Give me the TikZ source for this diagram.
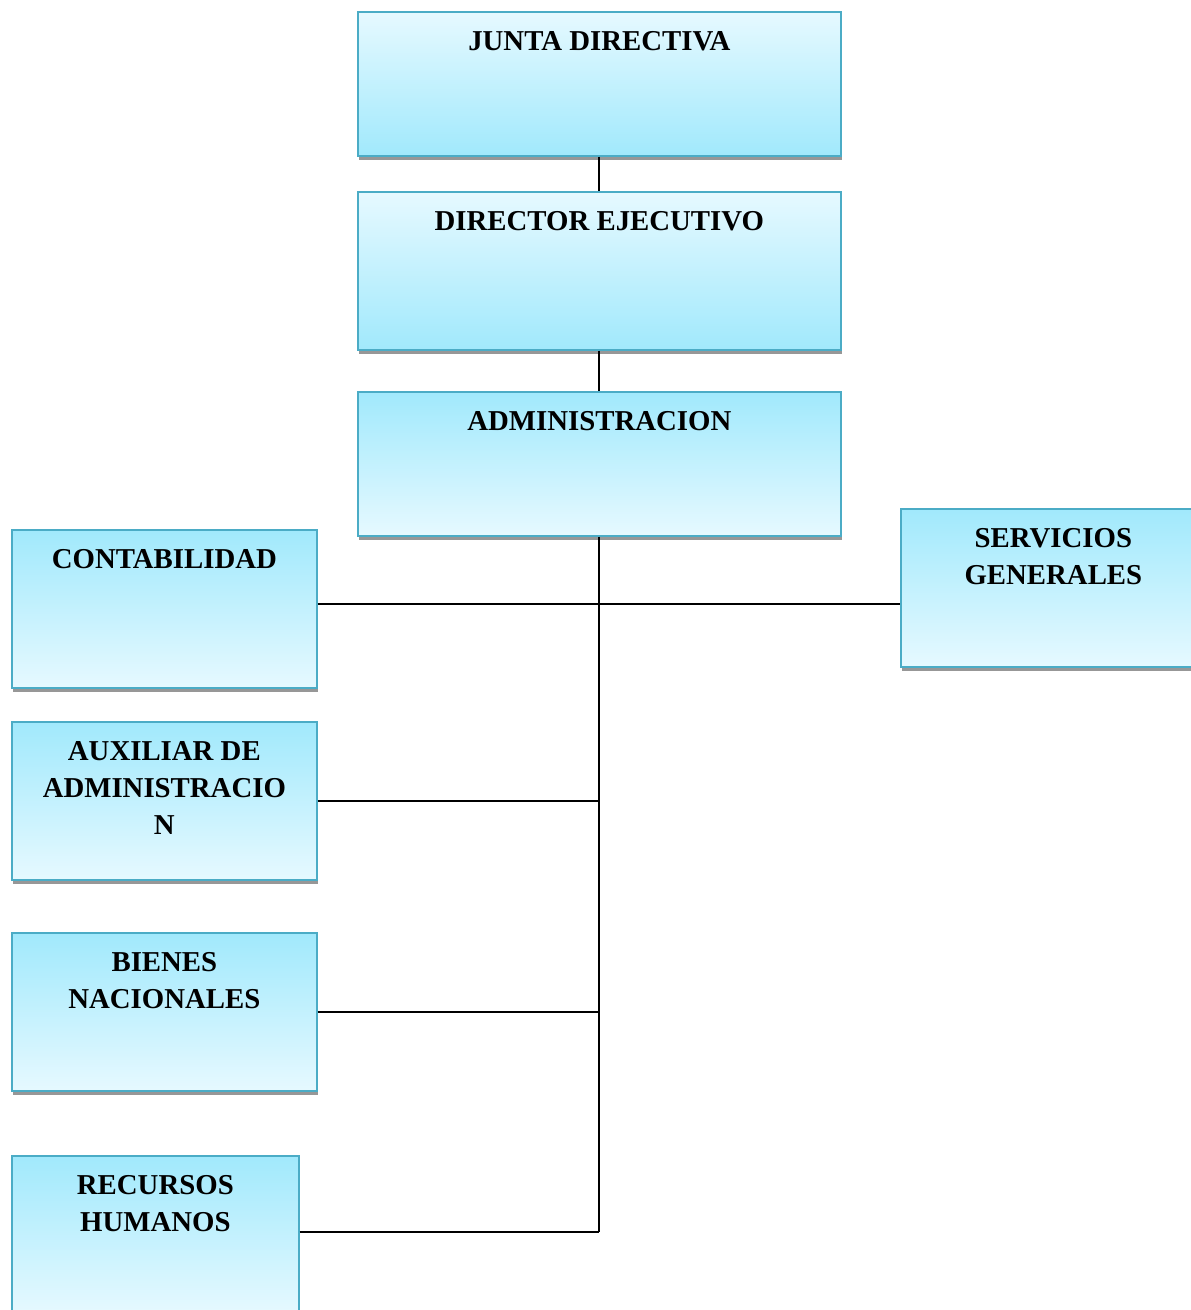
\documentclass[tikz,border=0pt]{standalone}
\usepackage{fontspec}
\setmainfont{Liberation Serif}
\usetikzlibrary{positioning, shadows, calc}
\definecolor{boxdark}{HTML}{A1E9FC}
\definecolor{boxlight}{HTML}{E6F9FF}
\definecolor{boxedge}{HTML}{4BACC6}
\definecolor{boxshadow}{HTML}{979797}
\begin{document}
\begin{tikzpicture}[
    x=0.75pt, y=-0.75pt,
    unit/.style={rectangle, draw=boxedge, line width=1.3pt, anchor=north west,
        minimum width=305*0.75pt, minimum height=158*0.75pt, inner sep=0pt,
        drop shadow={shadow xshift=0.75pt, shadow yshift=-3.3pt, opacity=1, fill=boxshadow}},
    darktop/.style={unit, top color=boxdark, bottom color=boxlight},
    lighttop/.style={unit, top color=boxlight, bottom color=boxdark},
    wide/.style={minimum width=483*0.75pt},
    title/.style={anchor=north, yshift=-20*0.75pt, align=center, inner sep=0pt,
        font=\bfseries\fontsize{21.6}{27.75}\selectfont},
    link/.style={draw=black, line width=1.5pt}
]
\useasboundingbox (0,0) rectangle (1191,1310);

% Upper chain
\node[lighttop, wide, minimum height=144*0.75pt] (junta) at (357,11) {};
\node[lighttop, wide] (director) at (357,191) {};
\node[darktop, wide, minimum height=144*0.75pt] (admin) at (357,391) {};

% Units under administration
\node[darktop] (conta) at (11,529) {};
\node[darktop] (servicios) at (900,508) {};
\node[darktop] (auxiliar) at (11,721) {};
\node[darktop] (bienes) at (11,932) {};
\node[darktop, minimum width=287*0.75pt] (recursos) at (11,1155) {};

% Titles
\node[title] (juntaT) at (junta.north) {JUNTA DIRECTIVA};
\node[title] (directorT) at (director.north) {DIRECTOR EJECUTIVO};
\node[title] (adminT) at (admin.north) {ADMINISTRACION};
\node[title] (contaT) at (conta.north) {CONTABILIDAD};
\node[title] (serviciosT) at (servicios.north) {SERVICIOS\\GENERALES};
\node[title] (auxiliarT) at (auxiliar.north) {AUXILIAR DE\\ADMINISTRACIO\\N};
\node[title] (bienesT) at (bienes.north) {BIENES\\NACIONALES};
\node[title] (recursosT) at (recursos.north) {RECURSOS\\HUMANOS};

% Connectors
\coordinate (cross) at (599,604);
\coordinate (spineEnd) at (admin.south |- 0,1232);
\draw[link] (junta) -- (director);
\draw[link] (director) -- (admin);
\draw[link] (admin) -- (spineEnd);
\draw[link] (cross -| conta.east) -- (cross -| servicios.west);
\draw[link] (auxiliar.east) -- (auxiliar.east -| admin.south);
\draw[link] (bienes.east) -- (bienes.east -| admin.south);
\draw[link] (spineEnd -| recursos.east) -- (spineEnd);

\end{tikzpicture}
\end{document}
